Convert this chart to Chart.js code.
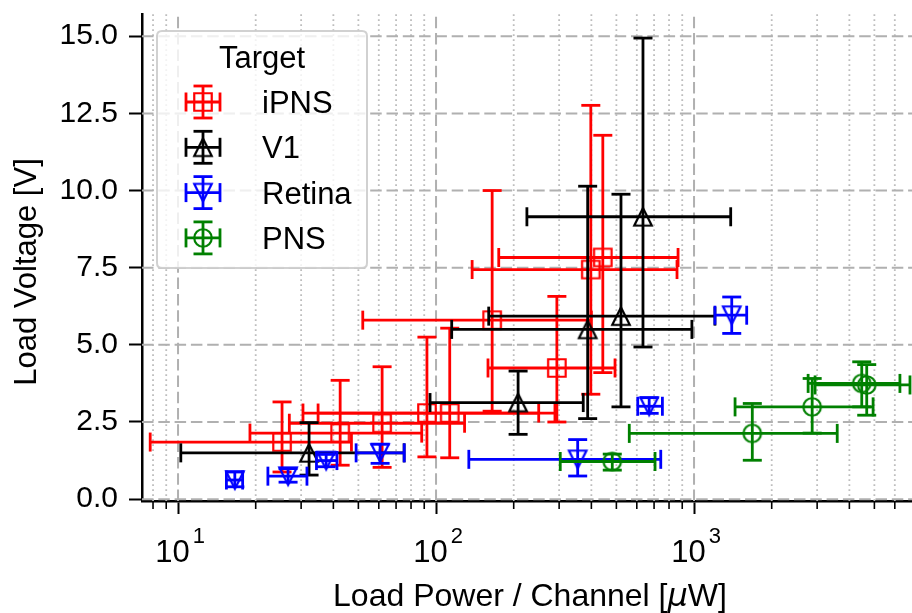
<!DOCTYPE html>
<html>
<head>
<meta charset="utf-8">
<title>Load Voltage vs Load Power</title>
<script src="https://cdn.jsdelivr.net/npm/chart.js@4.4.1/dist/chart.umd.min.js"></script>
<style>
html,body{margin:0;padding:0;background:#ffffff;overflow:hidden;}
#wrap{position:relative;width:912px;height:613px;}
canvas{display:block;}
</style>
</head>
<body>
<div id="wrap"><canvas id="chart" width="912" height="613"></canvas></div>
<script>
// ---------------- data ----------------
const seriesNames = ['iPNS', 'V1', 'Retina', 'PNS'];
const legendTitle = 'Target';
const yAxisTitle = 'Load Voltage [V]';
const xAxisTitleParts = ['Load Power / Channel [', '\u03BC', 'W]'];

// iPNS (red, open squares)
const ipnsX     = [25.3, 42.5, 61.8, 92.2, 113, 165, 294, 398, 443];
const ipnsY     = [1.85, 2.14, 2.46, 2.79, 2.79, 5.80, 4.25, 7.44, 7.83];
const ipnsXLow  = [7.8, 19, 27, 30.5, 34.9, 52, 159, 138, 175];
const ipnsXHigh = [47, 88, 129, 250, 289, 400, 494, 859, 867];
const ipnsYLow  = [0.88, 1.10, 1.03, 1.37, 1.34, 2.85, 2.50, 3.40, 4.10];
const ipnsYHigh = [3.15, 3.85, 4.29, 5.25, 5.54, 10.0, 6.57, 12.76, 11.79];

// V1 (black, open triangles up)
const v1X     = [32.2, 208, 387, 521, 634];
const v1Y     = [1.50, 3.13, 5.50, 5.93, 9.15];
const v1XLow  = [10.25, 94.8, 115, 160, 225];
const v1XHigh = [75.2, 372, 981, 1205, 1387];
const v1YLow  = [0.78, 2.10, 2.61, 2.99, 4.93];
const v1YHigh = [2.48, 4.15, 10.14, 9.88, 14.94];

// Retina (blue, open triangles down)
const retinaX     = [16.6, 26.7, 37.5, 60.7, 354, 670, 1400];
const retinaY     = [0.62, 0.745, 1.25, 1.50, 1.29, 3.01, 5.96];
const retinaXLow  = [15.4, 22.3, 34.4, 49, 134, 605, 1205];
const retinaXHigh = [17.8, 31.6, 41.3, 75.3, 743, 754, 1600];
const retinaYLow  = [0.40, 0.55, 1.05, 1.16, 0.75, 2.78, 5.37];
const retinaYHigh = [0.88, 0.99, 1.45, 1.78, 1.93, 3.29, 6.55];

// PNS (green, open circles)
const pnsX     = [482, 1682, 2870, 4467, 4670];
const pnsY     = [1.22, 2.13, 2.99, 3.75, 3.70];
const pnsXLow  = [303, 561, 1442, 2768, 2945];
const pnsXHigh = [706, 3589, 4943, 6280, 6870];
const pnsYLow  = [0.94, 1.26, 2.14, 2.99, 2.72];
const pnsYHigh = [1.46, 3.10, 3.91, 4.45, 4.36];

// ticks
const yTickValues = [0, 2.5, 5, 7.5, 10, 12.5, 15];
const yTickLabels = ['0.0', '2.5', '5.0', '7.5', '10.0', '12.5', '15.0'];
const xTickValues = [10, 100, 1000];
const xTickLabels = [['10', '1'], ['10', '2'], ['10', '3']];
const xMinorTickValues = [8, 9, 20, 30, 40, 50, 60, 70, 80, 90,
  200, 300, 400, 500, 600, 700, 800, 900, 2000, 3000, 4000, 5000, 6000];

// ---------------- style / layout ----------------
const X_MIN = 7.25, X_MAX = 6995, Y_MIN = -0.06, Y_MAX = 15.72;
const FONT = "'Liberation Sans', Arial, Helvetica, sans-serif";
const COLORS = ['#ff0000', '#000000', '#0000ff', '#008000'];
const MARKERS = ['square', 'up', 'down', 'circle'];
const MS = 17.5;       // marker size
const CAP = 9.5;       // half cap length
const ERR_LW = 2.8;

function makeMarker(kind, color) {
  const S = 28, o = S / 2, h = MS / 2;
  const c = document.createElement('canvas');
  c.width = S; c.height = S;
  const g = c.getContext('2d');
  g.strokeStyle = color; g.lineWidth = 2.2; g.lineJoin = 'miter';
  g.beginPath();
  if (kind === 'square') g.rect(o - h, o - h, 2 * h, 2 * h);
  else if (kind === 'up') { g.moveTo(o, o - h); g.lineTo(o + h, o + h); g.lineTo(o - h, o + h); g.closePath(); }
  else if (kind === 'down') { g.moveTo(o, o + h); g.lineTo(o - h, o - h); g.lineTo(o + h, o - h); g.closePath(); }
  else g.arc(o, o, h, 0, Math.PI * 2);
  g.stroke();
  return c;
}
const markerImgs = MARKERS.map((m, i) => makeMarker(m, COLORS[i]));

const SERIES = [
  {x: ipnsX, y: ipnsY, xl: ipnsXLow, xh: ipnsXHigh, yl: ipnsYLow, yh: ipnsYHigh},
  {x: v1X, y: v1Y, xl: v1XLow, xh: v1XHigh, yl: v1YLow, yh: v1YHigh},
  {x: retinaX, y: retinaY, xl: retinaXLow, xh: retinaXHigh, yl: retinaYLow, yh: retinaYHigh},
  {x: pnsX, y: pnsY, xl: pnsXLow, xh: pnsXHigh, yl: pnsYLow, yh: pnsYHigh}
];

function line(ctx, x1, y1, x2, y2) { ctx.beginPath(); ctx.moveTo(x1, y1); ctx.lineTo(x2, y2); ctx.stroke(); }

// grid lines
const gridPlugin = {
  id: 'mplGrid',
  beforeDatasetsDraw(chart) {
    const {ctx, chartArea: a, scales: {x: xs, y: ys}} = chart;
    ctx.save();
    ctx.beginPath(); ctx.rect(a.left, a.top, a.right - a.left, a.bottom - a.top); ctx.clip();
    ctx.strokeStyle = '#bdbdbd'; ctx.lineWidth = 1.8; ctx.setLineDash([1.8, 3.2]);
    xMinorTickValues.forEach(v => { const p = xs.getPixelForValue(v); line(ctx, p, a.bottom, p, a.top); });
    ctx.strokeStyle = '#b0b0b0'; ctx.lineWidth = 2; ctx.setLineDash([11.5, 4.8]);
    xTickValues.forEach(v => { const p = xs.getPixelForValue(v); line(ctx, p, a.bottom, p, a.top); });
    yTickValues.forEach(v => { const p = ys.getPixelForValue(v); line(ctx, a.left, p, a.right, p); });
    ctx.restore();
  }
};

function drawErrorBar(ctx, px, py, xl, xh, yb, yt, color) {
  ctx.strokeStyle = color; ctx.lineWidth = ERR_LW; ctx.lineCap = 'butt';
  line(ctx, xl, py, xh, py);
  line(ctx, px, yb, px, yt);
  line(ctx, xl, py - CAP, xl, py + CAP);
  line(ctx, xh, py - CAP, xh, py + CAP);
  line(ctx, px - CAP, yb, px + CAP, yb);
  line(ctx, px - CAP, yt, px + CAP, yt);
}

const errorPlugin = {
  id: 'errorbars',
  beforeDatasetDraw(chart, args) {
    const s = SERIES[args.index];
    const {ctx, chartArea: a, scales: {x: xs, y: ys}} = chart;
    ctx.save();
    ctx.beginPath(); ctx.rect(a.left, a.top, a.right - a.left, a.bottom - a.top); ctx.clip();
    s.x.forEach((xv, i) => {
      drawErrorBar(ctx, xs.getPixelForValue(xv), ys.getPixelForValue(s.y[i]),
        xs.getPixelForValue(s.xl[i]), xs.getPixelForValue(s.xh[i]),
        ys.getPixelForValue(s.yl[i]), ys.getPixelForValue(s.yh[i]), COLORS[args.index]);
    });
    ctx.restore();
  }
};

const overlayPlugin = {
  id: 'overlay',
  afterDraw(chart) {
    const {ctx, chartArea: a, scales: {x: xs}} = chart;
    ctx.save();
    // minor x ticks
    ctx.strokeStyle = '#000'; ctx.lineWidth = 1.6;
    xMinorTickValues.forEach(v => { const p = xs.getPixelForValue(v); if (p >= a.left && p <= a.right) line(ctx, p, a.bottom + 1, p, a.bottom + 8); });
    // x tick labels 10^n
    ctx.fillStyle = '#000'; ctx.textBaseline = 'alphabetic'; ctx.textAlign = 'left';
    xTickValues.forEach((v, i) => {
      const [base, exp] = xTickLabels[i];
      ctx.font = '31px ' + FONT; const wb = ctx.measureText(base).width;
      ctx.font = '22px ' + FONT; const we = ctx.measureText(exp).width;
      const px = xs.getPixelForValue(v);
      const left = px - (wb + we + 3) / 2 + 2;
      ctx.font = '31px ' + FONT; ctx.fillText(base, left, 562);
      ctx.font = '22px ' + FONT; ctx.fillText(exp, left + wb + 3, 543);
    });
    // x axis title
    const fonts = ['32px ' + FONT, "italic 32px 'DejaVu Sans', sans-serif", '32px ' + FONT];
    let tw = 0; const ws = xAxisTitleParts.map((t, i) => { ctx.font = fonts[i]; const w = ctx.measureText(t).width; tw += w; return w; });
    let cx = 530 - tw / 2;
    xAxisTitleParts.forEach((t, i) => { ctx.font = fonts[i]; ctx.fillText(t, cx, 606); cx += ws[i]; });
    // y axis title
    ctx.save();
    ctx.translate(36, 272); ctx.rotate(-Math.PI / 2);
    ctx.font = '31px ' + FONT; ctx.textAlign = 'center';
    ctx.fillText(yAxisTitle, 0, 0);
    ctx.restore();
    // legend
    const L = 157, T = 31, W = 210, H = 237, R = 5;
    ctx.beginPath();
    ctx.moveTo(L + R, T); ctx.lineTo(L + W - R, T); ctx.quadraticCurveTo(L + W, T, L + W, T + R);
    ctx.lineTo(L + W, T + H - R); ctx.quadraticCurveTo(L + W, T + H, L + W - R, T + H);
    ctx.lineTo(L + R, T + H); ctx.quadraticCurveTo(L, T + H, L, T + H - R);
    ctx.lineTo(L, T + R); ctx.quadraticCurveTo(L, T, L + R, T); ctx.closePath();
    ctx.fillStyle = 'rgba(255,255,255,0.8)'; ctx.fill();
    ctx.strokeStyle = 'rgba(204,204,204,0.9)'; ctx.lineWidth = 2; ctx.stroke();
    ctx.fillStyle = '#000'; ctx.font = '31px ' + FONT; ctx.textAlign = 'center';
    ctx.fillText(legendTitle, L + W / 2, 68);
    ctx.textAlign = 'left';
    seriesNames.forEach((name, i) => {
      const cy = 102 + 45.3 * i, mx = 203;
      drawErrorBar(ctx, mx, cy, mx - 17, mx + 17, cy + 16, cy - 16, COLORS[i]);
      ctx.drawImage(markerImgs[i], mx - 14, cy - 14);
      ctx.fillStyle = '#000'; ctx.font = '31px ' + FONT;
      ctx.fillText(name, 262, cy + 11);
    });
    ctx.restore();
  }
};

const datasets = SERIES.map((s, i) => ({
  label: seriesNames[i],
  data: s.x.map((xv, j) => ({x: xv, y: s.y[j]})),
  pointStyle: markerImgs[i],
  pointRadius: 10,
  pointHoverRadius: 10,
  showLine: false,
  borderColor: COLORS[i],
  backgroundColor: COLORS[i],
  order: 4 - i
}));

new Chart(document.getElementById('chart'), {
  type: 'scatter',
  data: {datasets},
  options: {
    responsive: false,
    devicePixelRatio: 1,
    animation: false,
    events: [],
    layout: {autoPadding: false, padding: {top: 14, left: 0, right: 0, bottom: 0}},
    plugins: {legend: {display: false}, tooltip: {enabled: false}},
    scales: {
      x: {
        type: 'logarithmic', position: 'bottom', min: X_MIN, max: X_MAX,
        afterBuildTicks: s => { s.ticks = xTickValues.map(v => ({value: v, major: true})); },
        afterFit: s => { s.height = 112; s.paddingLeft = 0; s.paddingRight = 0; },
        ticks: {display: false, autoSkip: false},
        grid: {display: true, drawOnChartArea: false, drawTicks: true, tickLength: 13, tickWidth: 2, tickColor: '#000', color: '#000'},
        border: {display: true, color: '#000', width: 2.5}
      },
      y: {
        type: 'linear', position: 'left', min: Y_MIN, max: Y_MAX,
        afterBuildTicks: s => { s.ticks = yTickValues.map(v => ({value: v})); },
        afterFit: s => { s.width = 142; s.paddingTop = 0; s.paddingBottom = 0; },
        ticks: {
          autoSkip: false, padding: 11, color: '#000',
          font: {family: FONT, size: 30},
          callback: (v) => yTickLabels[yTickValues.indexOf(v)] ?? v.toFixed(1)
        },
        grid: {display: true, drawOnChartArea: false, drawTicks: true, tickLength: 13, tickWidth: 2, tickColor: '#000', color: '#000'},
        border: {display: true, color: '#000', width: 2.5}
      }
    }
  },
  plugins: [gridPlugin, errorPlugin, overlayPlugin]
});
</script>
</body>
</html>
